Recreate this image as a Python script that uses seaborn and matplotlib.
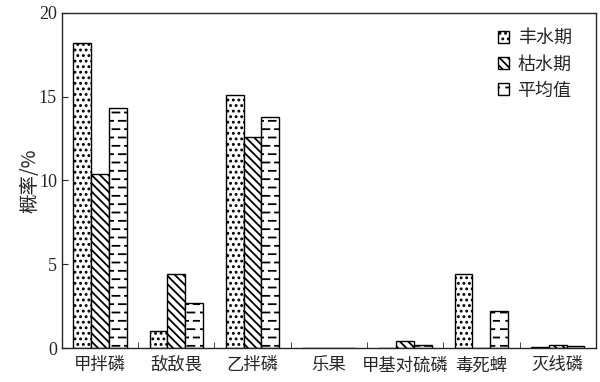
import pandas as pd
import matplotlib.pyplot as plt
import matplotlib.hatch as mhatch
from matplotlib.path import Path
import seaborn as sns
import numpy as np
from matplotlib.ticker import FixedLocator

# 数据: 各农药在不同水期的检出概率
pesticides = ['甲拌磷', '敌敌畏', '乙拌磷', '乐果', '甲基对硫磷', '毒死蜱', '灭线磷']
seasons = ['丰水期', '枯水期', '平均值']
wet = [18.2, 1.0, 15.1, 0.0, 0.0, 4.4, 0.05]
dry = [10.4, 4.4, 12.6, 0.0, 0.4, 0.0, 0.15]
mean = [14.3, 2.7, 13.8, 0.0, 0.2, 2.2, 0.1]


# 短横线填充 (替换默认的 '-' 横线)
class ShortDashHatch(mhatch.HatchPatternBase):
    per_row = 8

    def __init__(self, hatch, density):
        self.num_rows = int(hatch.count('-') * density)
        self.num_vertices = self.num_rows * self.per_row * 2

    def set_vertices_and_codes(self, vertices, codes):
        rows, dy = np.linspace(0.0, 1.0, self.num_rows, False, retstep=True)
        rows += dy / 2.
        period = 1.0 / self.per_row
        k = 0
        for i, y in enumerate(rows):
            off = 0.0 if i % 2 == 0 else period / 2
            for j in range(self.per_row):
                x0 = j * period + off
                vertices[k] = (x0, y)
                vertices[k + 1] = (x0 + period * 0.55, y)
                codes[k] = Path.MOVETO
                codes[k + 1] = Path.LINETO
                k += 2


mhatch._hatch_types = [ShortDashHatch if t is mhatch.HorizontalHatch else t
                       for t in mhatch._hatch_types]

df = pd.DataFrame({'农药': pesticides * 3,
                   '水期': [s for s in seasons for _ in pesticides],
                   '概率': wet + dry + mean})

sns.set_style('ticks')
plt.rcParams['font.family'] = ['Liberation Serif', 'Noto Sans CJK SC']
plt.rcParams['hatch.linewidth'] = 1.3

fig, ax = plt.subplots(figsize=(6, 3.82), dpi=100)
sns.barplot(data=df, x='农药', y='概率', hue='水期', hue_order=seasons,
            width=0.7, palette=['white'] * 3,
            edgecolor='black', linewidth=1.0, ax=ax)

hatches = ['...', '\\\\\\\\', '--']
for cont, h in zip(ax.containers, hatches):
    for bar in cont:
        bar.set_hatch(h)

ax.set_ylim(0, 20)
ax.set_xlim(-0.5, len(pesticides) - 0.5)
ax.set_yticks([0, 5, 10, 15, 20])
ax.set_xlabel('')
ax.set_ylabel('概率/%', fontsize=14, family=['Noto Sans CJK SC'])
ax.yaxis.set_label_coords(-0.04, 0.5)
ax.tick_params(axis='y', direction='in', length=4, labelsize=13)
ax.tick_params(axis='x', which='major', length=0, labelsize=12.5, pad=6)
ax.xaxis.set_minor_locator(FixedLocator(np.arange(0.5, len(pesticides) - 1, 1)))
ax.tick_params(axis='x', which='minor', direction='in', length=4)
for lab in ax.get_xticklabels():
    lab.set_family(['Noto Sans CJK SC'])
for s in ax.spines.values():
    s.set_visible(True)
    s.set_linewidth(1.0)

leg = ax.legend(loc='upper right', frameon=False, handlelength=0.6, handleheight=0.6,
                handletextpad=0.5, labelspacing=0.45,
                prop={'family': 'Noto Sans CJK SC', 'size': 13},
                bbox_to_anchor=(0.985, 1.0))
for h, patch in zip(hatches, leg.get_patches()):
    patch.set_hatch(h)
    patch.set_facecolor('white')
    patch.set_edgecolor('black')

fig.subplots_adjust(left=0.103, right=0.993, top=0.966, bottom=0.089)
fig.savefig('out.png')
